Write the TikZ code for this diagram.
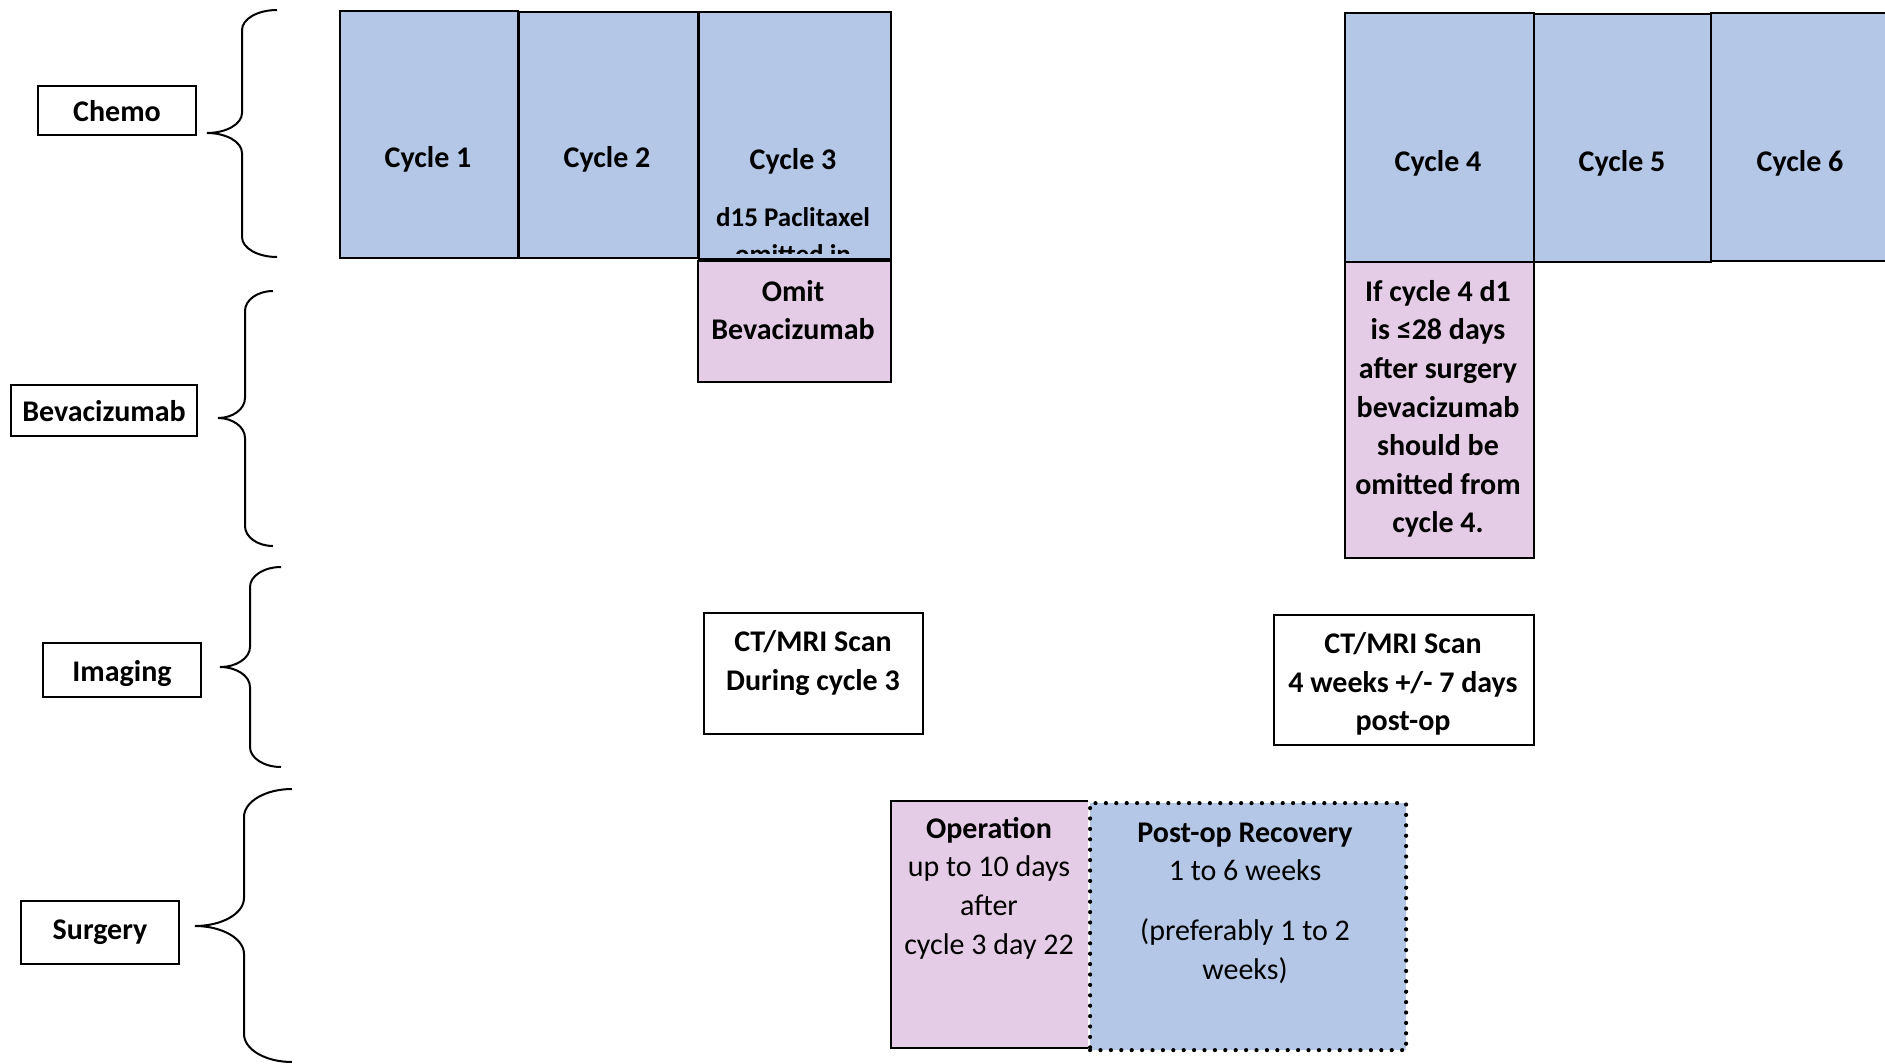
\documentclass[tikz,border=0pt]{standalone}
\usepackage{fontspec}
\setmainfont{Carlito}
\definecolor{cycleblue}{RGB}{180,199,231}
\definecolor{notepink}{RGB}{229,204,230}
% curly brace: tip x, tip y, stem x, end x, top y, bottom y, curl height
\newcommand{\curlybrace}[7]{%
  \draw[bracestroke]
    (#4,#5) .. controls ({#4-0.552*(#4-#3)},#5) and (#3,{#5+#7-0.552*#7}) .. (#3,{#5+#7})
    -- (#3,{#2-#7})
    .. controls (#3,{#2-#7+0.552*#7}) and ({#1+0.552*(#3-#1)},#2) .. (#1,#2)
    .. controls ({#1+0.552*(#3-#1)},#2) and (#3,{#2+#7-0.552*#7}) .. (#3,{#2+#7})
    -- (#3,{#6-#7})
    .. controls (#3,{#6-#7+0.552*#7}) and ({#4-0.552*(#4-#3)},#6) .. (#4,#6);}
\begin{document}
\begin{tikzpicture}[x=1pt,y=-1pt,
  every node/.style={font=\fontsize{30}{38.6}\selectfont},
  bracestroke/.style={draw=black,line width=2pt},
  frame/.style={draw=black,line width=2pt,inner sep=0pt,anchor=north west},
  cyclebox/.style={frame,fill=cycleblue},
  notebox/.style={frame,fill=notepink},
  plainbox/.style={frame,fill=white},
  rowlabel/.style={draw=black,line width=2pt,inner sep=0pt,anchor=north west,font=\fontsize{30}{38.6}\selectfont\bfseries},
  lowtext/.style={text height=22.5pt,text depth=0pt},
  txt/.style={inner sep=0pt,align=center},
  btxt/.style={txt,font=\fontsize{30}{38.6}\selectfont\bfseries},
  smallbtxt/.style={txt,font=\fontsize{27}{33}\selectfont\bfseries}]
\useasboundingbox (0,0) rectangle (1885,1063);
\clip (0,0) rectangle (1885,1063);

% row labels
\node[rowlabel,lowtext,minimum width=158,minimum height=49] (chemo) at (37,85) {Chemo};
\node[rowlabel,lowtext,minimum width=186,minimum height=51] (bev) at (10,384) {Bevacizumab};
\node[rowlabel,lowtext,minimum width=158,minimum height=54] (imaging) at (42,642) {Imaging};
\node[rowlabel,minimum width=158,minimum height=63] (surgery) at (20,900) {Surgery};

% braces
\curlybrace{207}{133}{242}{277}{10}{257}{20}
\curlybrace{218}{418}{245}{273}{291}{546}{20}
\curlybrace{220}{667}{250}{281}{567}{767}{20}
\curlybrace{195}{926}{244}{292}{789}{1062}{28}

% chemotherapy cycles before surgery
\node[cyclebox,minimum width=178,minimum height=247] (c1) at (339,10) {};
\node[cyclebox,minimum width=179,minimum height=246] (c2) at (518,11) {};
\node[cyclebox,minimum width=192,minimum height=247] (c3) at (698,11) {};
\node[btxt] (c1t) at (428,159) {Cycle 1};
\node[btxt] (c2t) at (607,159) {Cycle 2};
\node[btxt] (c3t) at (793,161) {Cycle 3};
\node[smallbtxt] (c3n) at (793,217) {d15 Paclitaxel};
\begin{scope}
  \clip (698,11) rectangle (890,253);
  \node[smallbtxt] (c3m) at (793,254) {omitted in};
\end{scope}

% bevacizumab omitted during cycle 3
\node[notebox,minimum width=193,minimum height=121] (omit) at (697,260) {};
\node[btxt] (omitt) at (793,310) {Omit\\Bevacizumab};

% chemotherapy cycles after surgery
\node[cyclebox,minimum width=189,minimum height=249] (c4) at (1344,12) {};
\node[cyclebox,minimum width=177,minimum height=248] (c5) at (1533,13) {};
\node[cyclebox,minimum width=200,minimum height=248] (c6) at (1710,12) {};
\node[btxt] (c4t) at (1438,163) {Cycle 4};
\node[btxt] (c5t) at (1622,163) {Cycle 5};
\node[btxt] (c6t) at (1800,163) {Cycle 6};

% bevacizumab note for cycle 4
\node[notebox,minimum width=189,minimum height=296] (c4note) at (1344,261) {};
\node[btxt] (c4notet) at (1438,409) {If cycle 4 d1\\is ≤28 days\\after surgery\\bevacizumab\\should be\\omitted from\\cycle 4.};

% imaging
\node[plainbox,minimum width=219,minimum height=121] (ct1) at (703,612) {};
\node[btxt] (ct1t) at (813,663) {CT/MRI Scan\\During cycle 3};
\node[plainbox,minimum width=260,minimum height=130] (ct2) at (1273,614) {};
\node[btxt] (ct2t) at (1403,684) {CT/MRI Scan\\4 weeks +/- 7 days\\post-op};

% surgery and recovery
\node[inner sep=0pt,anchor=north west,fill=notepink,minimum width=197,minimum height=247] (op) at (891,801) {};
\draw[black,line width=2pt] (op.north east) -- (op.north west) -- (op.south west) -- (op.south east);
\node[inner sep=0pt,anchor=north west,fill=cycleblue,minimum width=316,minimum height=247,
      draw=black,line width=4.2pt,line cap=round,dash pattern=on 0pt off 10.4pt] (rec) at (1088,801) {};
\node[txt] (opt) at (989,888) {\textbf{Operation}\\up to 10 days\\after\\cycle 3 day 22};
\node[txt] (rect) at (1245,903) {\textbf{Post-op Recovery}\\1 to 6 weeks\\[21pt](preferably 1 to 2\\weeks)};
\end{tikzpicture}
\end{document}
